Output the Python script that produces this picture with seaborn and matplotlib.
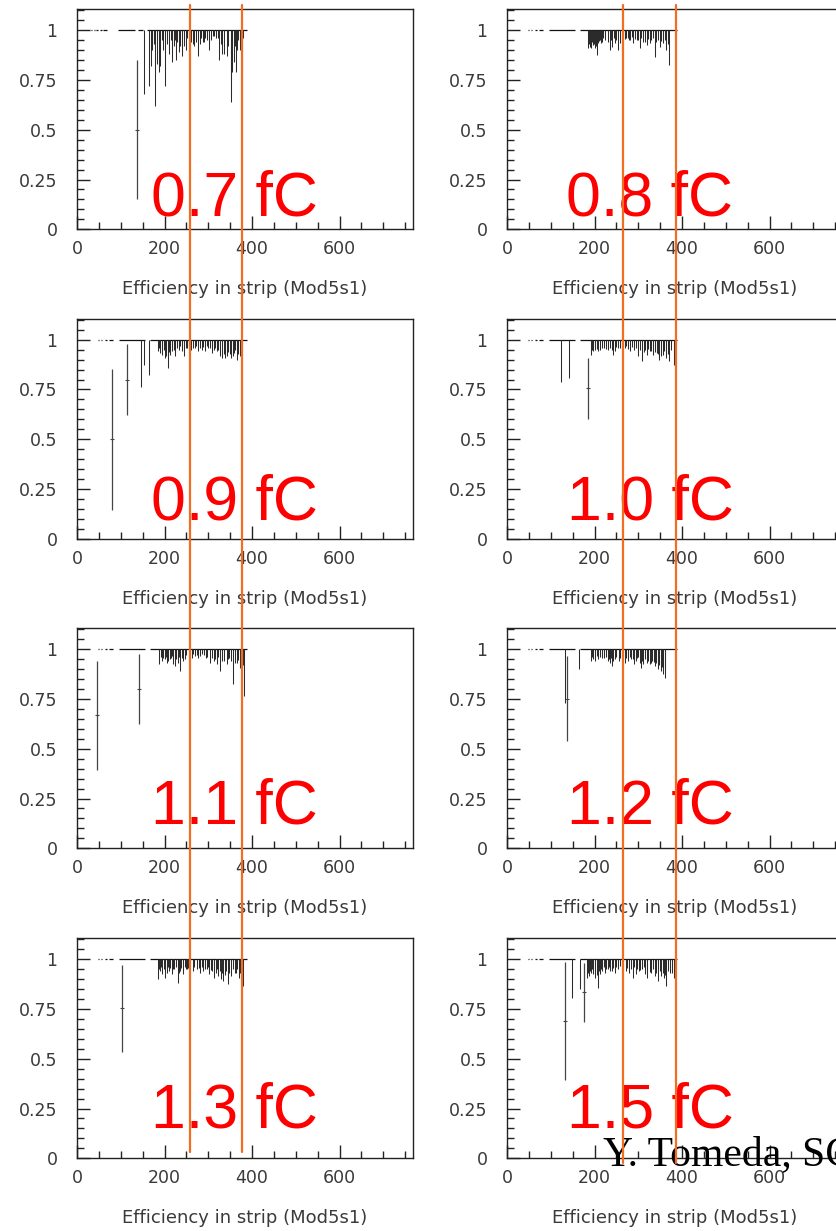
import numpy as np
import pandas as pd
import matplotlib
matplotlib.use("Agg")
import matplotlib.pyplot as plt
from matplotlib.lines import Line2D
from matplotlib.ticker import MultipleLocator, FixedLocator, FixedFormatter
import seaborn as sns

sns.set_theme(style="ticks")
plt.rcParams["font.family"] = ["DejaVu Sans"]

# ---------------- data ----------------
LABELS = ["0.7 fC", "0.8 fC", "0.9 fC", "1.0 fC", "1.1 fC", "1.2 fC", "1.3 fC", "1.5 fC"]

# strip ranges with efficiency = 1
SEG_START_07 = [33, 38, 44, 52, 60, 94, 140, 161]
SEG_END_07 = [35, 41, 47, 57, 68, 133, 150, 388]
SEG_START = [40, 48, 55, 63, 72, 96, 166]
SEG_END = [42, 51, 58, 68, 83, 156, 388]

# strips with reduced efficiency (bar hanging from 1 down to value)
dip_strip_07 = [152, 165, 168, 179, 183, 187, 190, 200, 205, 210, 214, 217, 221, 227, 232, 236, 240, 245,
                248, 255, 260, 264, 268, 273, 277, 281, 287, 290, 293, 297, 302, 310, 318, 325, 332, 337,
                342, 346, 351, 353, 355, 359, 364, 368, 372, 376]
dip_eff_07 = [0.68, 0.72, 0.82, 0.62, 0.83, 0.79, 0.82, 0.72, 0.93, 0.88, 0.95, 0.84, 0.92, 0.85, 0.89, 0.92,
              0.87, 0.92, 0.90, 0.87, 0.94, 0.93, 0.92, 0.94, 0.87, 0.93, 0.94, 0.94, 0.96, 0.95, 0.90, 0.97,
              0.96, 0.85, 0.88, 0.88, 0.87, 0.92, 0.64, 0.75, 0.79, 0.84, 0.79, 0.95, 0.90, 0.78]
fine_strip_07 = [171, 176, 194, 197, 224, 229, 251, 284, 306, 314, 322, 328, 361, 366, 380]
fine_eff_07 = [0.9, 0.93, 0.95, 0.9, 0.95, 0.94, 0.96, 0.96, 0.95, 0.97, 0.96, 0.93, 0.92, 0.9, 0.96]

dip_strip_08 = [185, 187, 189, 191, 193, 195, 197, 199, 201, 203, 205, 208, 210, 212, 214, 216, 220, 225,
                230, 235, 241, 246, 250, 254, 258, 265, 270, 276, 282, 288, 296, 303, 311, 319, 326, 338,
                345, 349, 357, 364, 370]
dip_eff_08 = [0.91, 0.93, 0.918, 0.92, 0.909, 0.94, 0.926, 0.93, 0.909, 0.92, 0.876, 0.934, 0.945, 0.951,
              0.935, 0.943, 0.959, 0.95, 0.94, 0.901, 0.918, 0.934, 0.95, 0.901, 0.934, 0.951, 0.955, 0.96,
              0.95, 0.934, 0.951, 0.909, 0.943, 0.926, 0.934, 0.867, 0.951, 0.918, 0.934, 0.901, 0.825]
fine_strip_08 = [223, 238, 244, 262, 273, 279, 285, 292, 299, 307, 315, 322, 330, 334, 341, 353, 360, 367]
fine_eff_08 = [0.96, 0.95, 0.96, 0.955, 0.96, 0.95, 0.965, 0.955, 0.95, 0.96, 0.94, 0.955, 0.95, 0.96,
               0.94, 0.945, 0.95, 0.93]

dip_strip_09 = [146, 152, 165, 186, 190, 195, 200, 203, 207, 213, 218, 224, 232, 241, 245, 251, 261, 270,
                277, 285, 293, 300, 308, 319, 327, 332, 338, 342, 353, 359, 365, 376]
dip_eff_09 = [0.76, 0.874, 0.823, 0.941, 0.933, 0.924, 0.907, 0.916, 0.857, 0.924, 0.941, 0.916, 0.950,
              0.941, 0.916, 0.958, 0.950, 0.958, 0.941, 0.950, 0.941, 0.958, 0.933, 0.941, 0.916, 0.907,
              0.907, 0.916, 0.907, 0.933, 0.899, 0.941]
fine_strip_09 = [188, 198, 210, 216, 221, 228, 236, 248, 256, 265, 273, 281, 289, 297, 304, 312, 316, 323,
                 335, 346, 350, 356, 362, 369, 372]
fine_eff_09 = [0.96, 0.95, 0.94, 0.96, 0.95, 0.96, 0.97, 0.96, 0.97, 0.96, 0.97, 0.96, 0.965, 0.97, 0.96,
               0.95, 0.96, 0.95, 0.93, 0.94, 0.93, 0.92, 0.95, 0.93, 0.92]

dip_strip_10 = [123, 142, 192, 197, 202, 208, 218, 231, 243, 246, 254, 262, 273, 281, 291, 300, 309, 319,
                326, 334, 342, 348, 353, 359, 364, 370, 382]
dip_eff_10 = [0.787, 0.807, 0.924, 0.941, 0.950, 0.941, 0.958, 0.950, 0.924, 0.941, 0.958, 0.950, 0.966,
              0.941, 0.950, 0.916, 0.891, 0.924, 0.941, 0.924, 0.933, 0.899, 0.916, 0.941, 0.907, 0.891, 0.874]
fine_strip_10 = [194, 200, 205, 212, 222, 227, 236, 239, 250, 258, 266, 270, 277, 286, 295, 304, 313, 316,
                 322, 330, 338, 345, 356, 367, 375]
fine_eff_10 = [0.95, 0.96, 0.955, 0.95, 0.96, 0.955, 0.96, 0.95, 0.965, 0.96, 0.97, 0.96, 0.955, 0.965,
               0.96, 0.95, 0.94, 0.95, 0.955, 0.945, 0.94, 0.93, 0.925, 0.93, 0.95]

dip_strip_11 = [188, 194, 200, 205, 209, 215, 220, 224, 230, 236, 243, 247, 255, 262, 270, 277, 285, 294,
                304, 312, 319, 327, 331, 342, 348, 357, 365, 373, 376, 382]
dip_eff_11 = [0.928, 0.941, 0.950, 0.933, 0.941, 0.958, 0.924, 0.916, 0.933, 0.891, 0.941, 0.950, 0.958,
              0.958, 0.966, 0.958, 0.975, 0.958, 0.933, 0.941, 0.924, 0.891, 0.941, 0.924, 0.958, 0.823,
              0.933, 0.907, 0.899, 0.765]
fine_strip_11 = [191, 197, 203, 212, 218, 227, 233, 240, 250, 259, 266, 274, 281, 290, 298, 308, 316, 323,
                 336, 345, 352, 361, 369, 379]
fine_eff_11 = [0.96, 0.955, 0.96, 0.95, 0.965, 0.95, 0.96, 0.955, 0.97, 0.965, 0.975, 0.97, 0.965, 0.97,
               0.96, 0.955, 0.95, 0.96, 0.94, 0.95, 0.94, 0.93, 0.945, 0.92]

dip_strip_12 = [132, 165, 193, 197, 202, 208, 218, 230, 235, 240, 246, 256, 262, 269, 277, 284, 291, 296,
                306, 311, 319, 326, 332, 338, 345, 351, 357, 362, 383]
dip_eff_12 = [0.731, 0.90, 0.941, 0.950, 0.941, 0.950, 0.958, 0.941, 0.933, 0.916, 0.950, 0.941, 0.958,
              0.933, 0.941, 0.950, 0.924, 0.958, 0.907, 0.924, 0.933, 0.924, 0.941, 0.916, 0.899, 0.891,
              0.874, 0.857, 0.891]
fine_strip_12 = [195, 200, 205, 212, 222, 226, 232, 238, 243, 250, 259, 265, 273, 281, 287, 294, 300, 303,
                 309, 315, 322, 329, 335, 341, 348, 354, 360]
fine_eff_12 = [0.96, 0.955, 0.965, 0.96, 0.955, 0.96, 0.95, 0.955, 0.94, 0.96, 0.955, 0.97, 0.955, 0.96,
               0.95, 0.94, 0.96, 0.93, 0.94, 0.95, 0.94, 0.93, 0.935, 0.93, 0.92, 0.91, 0.9]

dip_strip_13 = [184, 190, 195, 200, 205, 210, 216, 222, 230, 235, 243, 248, 254, 264, 274, 281, 289, 296,
                302, 312, 317, 323, 329, 334, 344, 352, 360, 370, 375, 379]
dip_eff_13 = [0.899, 0.941, 0.924, 0.907, 0.933, 0.941, 0.924, 0.950, 0.882, 0.941, 0.924, 0.950, 0.958,
              0.941, 0.950, 0.933, 0.941, 0.950, 0.924, 0.907, 0.933, 0.916, 0.899, 0.891, 0.874, 0.916,
              0.933, 0.907, 0.874, 0.865]
fine_strip_13 = [187, 192, 198, 202, 208, 213, 219, 226, 233, 238, 246, 251, 258, 268, 278, 285, 293, 299,
                 306, 309, 320, 326, 331, 338, 341, 348, 356, 364, 366, 373, 377]
fine_eff_13 = [0.95, 0.96, 0.95, 0.94, 0.96, 0.955, 0.95, 0.96, 0.93, 0.955, 0.96, 0.95, 0.965, 0.96,
               0.955, 0.96, 0.95, 0.96, 0.945, 0.94, 0.95, 0.94, 0.93, 0.92, 0.94, 0.93, 0.95, 0.93, 0.95,
               0.93, 0.92]

dip_strip_15 = [149, 167, 182, 187, 192, 197, 202, 207, 212, 218, 224, 231, 239, 246, 254, 263, 271, 278,
                288, 294, 301, 309, 316, 321, 330, 338, 345, 353, 359, 364, 372, 382]
dip_eff_15 = [0.807, 0.848, 0.907, 0.916, 0.933, 0.924, 0.907, 0.857, 0.924, 0.941, 0.933, 0.950, 0.941,
              0.933, 0.950, 0.958, 0.941, 0.933, 0.907, 0.924, 0.941, 0.950, 0.924, 0.907, 0.933, 0.916,
              0.891, 0.916, 0.907, 0.865, 0.933, 0.907]
fine_strip_15 = [184, 190, 195, 200, 205, 210, 215, 221, 227, 234, 236, 243, 250, 258, 266, 274, 283, 291,
                 298, 305, 312, 319, 326, 334, 341, 349, 356, 362, 368, 377]
fine_eff_15 = [0.93, 0.94, 0.95, 0.93, 0.92, 0.94, 0.95, 0.96, 0.95, 0.96, 0.94, 0.955, 0.96, 0.965, 0.96,
               0.955, 0.95, 0.96, 0.95, 0.945, 0.96, 0.94, 0.935, 0.95, 0.93, 0.94, 0.93, 0.92, 0.94, 0.93]

# low-statistics strips shown with error bars
bar_strip_07, bar_eff_07, bar_err_07 = [138], [0.50], [0.35]
bar_strip_08, bar_eff_08, bar_err_08 = [], [], []
bar_strip_09, bar_eff_09, bar_err_09 = [79, 113.5], [0.50, 0.80], [0.355, 0.18]
bar_strip_10, bar_eff_10, bar_err_10 = [185], [0.755], [0.155]
bar_strip_11, bar_eff_11, bar_err_11 = [45, 142], [0.668, 0.80], [0.273, 0.178]
bar_strip_12, bar_eff_12, bar_err_12 = [138], [0.752], [0.214]
bar_strip_13, bar_eff_13, bar_err_13 = [102], [0.753], [0.219]
bar_strip_15, bar_eff_15, bar_err_15 = [133, 176], [0.69, 0.833], [0.295, 0.147]

X_TICKS = [0, 200, 400, 600]
X_TICKLABELS = ["0", "200", "400", "600"]
Y_TICKS = [0, 0.25, 0.5, 0.75, 1]
Y_TICKLABELS = ["0", "0.25", "0.5", "0.75", "1"]
XLABEL = "Efficiency in strip (Mod5s1)"
CREDIT = "Y. Tomeda, SCT"

PANELS = [
    (dip_strip_07 + fine_strip_07, dip_eff_07 + fine_eff_07, bar_strip_07, bar_eff_07, bar_err_07, SEG_START_07, SEG_END_07),
    (dip_strip_08 + fine_strip_08, dip_eff_08 + fine_eff_08, bar_strip_08, bar_eff_08, bar_err_08, SEG_START, SEG_END),
    (dip_strip_09 + fine_strip_09, dip_eff_09 + fine_eff_09, bar_strip_09, bar_eff_09, bar_err_09, SEG_START, SEG_END),
    (dip_strip_10 + fine_strip_10, dip_eff_10 + fine_eff_10, bar_strip_10, bar_eff_10, bar_err_10, SEG_START, SEG_END),
    (dip_strip_11 + fine_strip_11, dip_eff_11 + fine_eff_11, bar_strip_11, bar_eff_11, bar_err_11, SEG_START, SEG_END),
    (dip_strip_12 + fine_strip_12, dip_eff_12 + fine_eff_12, bar_strip_12, bar_eff_12, bar_err_12, SEG_START, SEG_END),
    (dip_strip_13 + fine_strip_13, dip_eff_13 + fine_eff_13, bar_strip_13, bar_eff_13, bar_err_13, SEG_START, SEG_END),
    (dip_strip_15 + fine_strip_15, dip_eff_15 + fine_eff_15, bar_strip_15, bar_eff_15, bar_err_15, SEG_START, SEG_END),
]

# ---------------- layout ----------------
W, H = 836, 1231
fig = plt.figure(figsize=(W / 100, H / 100), dpi=100)
fig.patch.set_facecolor("white")

AX_LEFT = [77, 507]
AX_W = 336
AX_H = 220
ROW_BOTTOM = [229.3, 538.8, 848.3, 1158.3]
LABEL_BASE = [215, 520, 823, 1128]
LABEL_CX = [234, 650]

INK = "#222222"
TXT = "#3a3a3a"
BAR = "#2b2b2b"

for i, (ds, de, bs, be, berr, s0, s1) in enumerate(PANELS):
    r, c = divmod(i, 2)
    bottom = 1 - ROW_BOTTOM[r] / H
    ax = fig.add_axes([AX_LEFT[c] / W, bottom, AX_W / W, AX_H / H])
    ax.set_facecolor("white")

    # efficiency = 1 plateau
    ax.hlines([1.0] * len(s0), s0, s1, color="#111111", lw=0.9)
    # dips from 1
    dips = pd.DataFrame({"strip": ds, "eff": de})
    ax.vlines(dips["strip"], dips["eff"], 1.0, color=BAR, lw=0.75)
    # low-stat strips with error bars
    if len(bs):
        bars = pd.DataFrame({"strip": bs, "eff": be, "err": berr})
        ax.errorbar(bars["strip"], bars["eff"], yerr=bars["err"], fmt="none",
                    ecolor="#444444", elinewidth=0.9, capsize=0)
        sns.scatterplot(data=bars, x="strip", y="eff", marker="_", s=12,
                        color="#444444", linewidth=0.8, ax=ax, legend=False)

    ax.set_xlim(0, 768)
    ax.set_ylim(0, 1.105)
    ax.set_xlabel("")
    ax.set_ylabel("")
    ax.xaxis.set_major_locator(FixedLocator(X_TICKS))
    ax.xaxis.set_major_formatter(FixedFormatter(X_TICKLABELS))
    ax.xaxis.set_minor_locator(MultipleLocator(50))
    ax.yaxis.set_major_locator(FixedLocator(Y_TICKS))
    ax.yaxis.set_major_formatter(FixedFormatter(Y_TICKLABELS))
    ax.yaxis.set_minor_locator(MultipleLocator(0.05))
    ax.tick_params(which="major", direction="in", length=9.5, width=1.0, color=INK,
                   labelsize=12.5, labelcolor=TXT, top=False, right=False)
    ax.tick_params(which="minor", direction="in", length=4.8, width=1.0, color=INK,
                   top=False, right=False)
    ax.tick_params(axis="x", which="major", pad=8)
    ax.tick_params(axis="y", which="major", pad=14)
    for sp in ax.spines.values():
        sp.set_visible(True)
        sp.set_color(INK)
        sp.set_linewidth(1.0)

    ax.text(0.5, -0.273, XLABEL, transform=ax.transAxes, ha="center", va="center",
            fontsize=13, color=TXT)

    fig.text(LABEL_CX[c] / W, 1 - LABEL_BASE[r] / H, LABELS[i], ha="center", va="baseline",
             fontsize=45, color="#FF0000", family=["Liberation Sans", "DejaVu Sans"], zorder=20)

# credit text
fig.text(603 / W, 1 - 1165 / H, CREDIT, ha="left", va="baseline", fontsize=30,
         color="black", family=["Liberation Serif", "DejaVu Serif"], zorder=25)

# orange reference lines across the panels
ORANGE = "#F26D21"
for x, y0, y1 in [(190, 5, 1152), (242.3, 5, 1152), (623.3, 5, 1163), (675.7, 5, 1163)]:
    fig.add_artist(Line2D([x / W, x / W], [1 - y0 / H, 1 - y1 / H], transform=fig.transFigure,
                          color=ORANGE, lw=1.6, zorder=30))

fig.savefig("out.png", dpi=100, facecolor="white")
